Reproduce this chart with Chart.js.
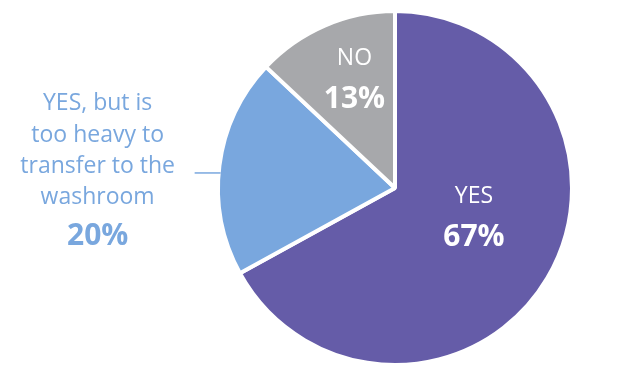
<!DOCTYPE html>
<html>
<head>
<meta charset="utf-8">
<script src="https://cdn.jsdelivr.net/npm/chart.js@4"></script>
<style>
  html, body { margin: 0; padding: 0; background: #fff; }
  #wrap { width: 622px; height: 379px; }
</style>
</head>
<body>
<div id="wrap"><canvas id="pieChart" width="622" height="379"></canvas></div>
<script>
var categories = ["YES", "YES, but is too heavy to transfer to the washroom", "NO"];
var values = [67, 20, 13];
var colors = ["#655ca8", "#79a7de", "#a7a8ab"];

// text lines drawn for each slice
var labelLines = [
    ["YES"],
    ["YES, but is", "too heavy to", "transfer to the", "washroom"],
    ["NO"]
];

var FONT = "'Open Sans', sans-serif";

var sliceLabels = {
    id: "sliceLabels",
    afterDatasetsDraw: function(chart) {
        var c = chart.ctx;
        var arcs = chart.getDatasetMeta(0).data;
        c.save();
        c.textAlign = "center";
        c.textBaseline = "middle";

        // YES - inside
        var a = arcs[0], R = a.outerRadius;
        var x = a.x + 0.446 * R, y = a.y + 0.16 * R;
        c.fillStyle = "#fff";
        c.font = "23px " + FONT;
        c.fillText(labelLines[0][0], x, y - 20);
        c.font = "bold 30px " + FONT;
        c.fillText(values[0] + "%", x, y + 21);

        // NO - inside
        a = arcs[2];
        x = a.x - 0.229 * R; y = a.y - 0.617 * R;
        c.font = "23px " + FONT;
        c.fillText(labelLines[2][0], x, y - 20);
        c.font = "bold 30px " + FONT;
        c.fillText(values[2] + "%", x, y + 21);

        // middle slice - outside with leader line
        a = arcs[1];
        var ly = a.y - 0.085 * R;
        var lx = a.x - Math.sqrt(R * R - (0.085 * R) * (0.085 * R)) + 2;
        c.strokeStyle = colors[1];
        c.lineWidth = 1.5;
        c.beginPath();
        c.moveTo(lx, ly);
        c.lineTo(lx - 26, ly);
        c.stroke();
        var tx = lx - 26 - 97;
        c.fillStyle = colors[1];
        c.font = "23px " + FONT;
        var offs = [-70, -38, -7, 24];
        labelLines[1].forEach(function(t, i) {
            c.fillText(t, tx, ly + offs[i]);
        });
        c.font = "bold 30px " + FONT;
        c.fillText(values[1] + "%", tx, ly + 63);
        c.restore();
    }
};

new Chart(document.getElementById("pieChart").getContext("2d"), {
    type: "pie",
    data: {
        labels: categories,
        datasets: [{
            data: values,
            backgroundColor: colors,
            borderColor: "#ffffff",
            borderWidth: 4
        }]
    },
    options: {
        responsive: false,
        animation: false,
        layout: { padding: { left: 216, right: 48, top: 9, bottom: 12 } },
        plugins: {
            legend: { display: false },
            tooltip: { enabled: false }
        }
    },
    plugins: [sliceLabels]
});
</script>
</body>
</html>
